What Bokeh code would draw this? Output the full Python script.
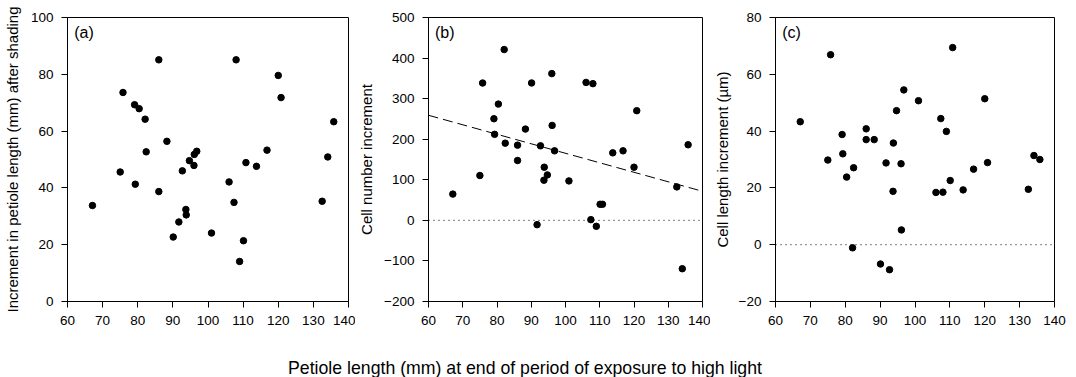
from bokeh.plotting import figure
from bokeh.layouts import row, column
from bokeh.models import Range1d, FixedTicker, Span, Label
from bokeh.embed import file_html
from bokeh.resources import INLINE

# Petiole length (mm) at end of high-light period (shared x for all panels)
petiole_len = [67.1, 75.0, 75.8, 79.1, 80.4, 79.3, 82.1, 82.4, 86.0, 86.0, 88.3, 90.1,
               91.7, 92.7, 93.7, 93.8, 94.7, 96.0, 96.1, 96.8, 101.0, 106.0, 107.4, 108.0,
               109.0, 110.1, 110.8, 113.8, 116.8, 120.0, 120.8, 132.5, 134.1, 135.8]
# (a) Increment in petiole length (mm) after shading
petiole_inc = [33.8, 45.6, 73.6, 69.3, 67.9, 41.3, 64.2, 52.7, 85.1, 38.7, 56.4, 22.7,
               28.0, 46.0, 32.4, 30.5, 49.6, 47.9, 51.8, 52.9, 24.1, 42.1, 34.9, 85.1,
               14.1, 21.4, 48.9, 47.6, 53.3, 79.6, 71.8, 35.3, 50.9, 63.3]
# (b) Cell number increment
cell_num_inc = [64.7, 110.5, 338.5, 250.5, 286.6, 212, 421, 190.3, 185.4, 147.5, 225, 338.6,
                -10.6, 183.7, 99, 131, 112, 361.7, 234, 171.4, 97.2, 340, 1.8, 337,
                -14.7, 39.6, 39.6, 166.4, 171.4, 131, 270.3, 82.5, -119.2, 186.3]
# (c) Cell length increment (um)
cell_len_inc = [43.3, 29.8, 66.9, 38.8, 23.8, 32.0, -1.1, 27.1, 40.8, 37.0, 37.0, -6.8,
                28.8, -8.8, 18.8, 35.8, 47.2, 28.5, 5.2, 54.5, 50.7, 18.4, 44.4, 18.5,
                39.9, 22.6, 69.4, 19.3, 26.6, 51.4, 28.9, 19.5, 31.4, 30.0]
# regression line in (b)
fit_x = [60, 139]
fit_y = [259, 74]

x_ticks = [60, 70, 80, 90, 100, 110, 120, 130, 140]
a_ticks = [0, 20, 40, 60, 80, 100]
b_ticks = [-200, -100, 0, 100, 200, 300, 400, 500]
c_ticks = [-20, 0, 20, 40, 60, 80]

FONT = "Liberation Sans"
H = 333


def panel(width, left, right, ylo, yhi, yticks, ylabel, letter, ys, standoff):
    p = figure(width=width, height=H, x_range=Range1d(60, 140), y_range=Range1d(ylo, yhi),
               output_backend="svg", toolbar_location=None,
               min_border_left=left, min_border_right=right,
               min_border_top=17, min_border_bottom=32)
    p.grid.visible = False
    p.background_fill_color = "white"
    p.border_fill_color = "white"
    p.outline_line_color = "black"
    p.outline_line_alpha = 1
    p.outline_line_width = 1
    for ax in (p.xaxis[0], p.yaxis[0]):
        ax.major_tick_out = 6
        ax.major_tick_in = 0
        ax.minor_tick_out = 0
        ax.minor_tick_in = 0
        ax.axis_line_color = "black"
        ax.major_tick_line_color = "black"
        ax.major_label_text_font = FONT
        ax.major_label_text_font_size = "13.5px"
        ax.major_label_text_color = "black"
        ax.major_label_standoff = 8
        ax.axis_label_text_font = FONT
        ax.axis_label_text_font_style = "normal"
        ax.axis_label_text_font_size = "15px"
        ax.axis_label_text_color = "black"
    p.xaxis.ticker = FixedTicker(ticks=x_ticks)
    p.yaxis.ticker = FixedTicker(ticks=yticks)
    p.yaxis.axis_label = ylabel
    p.yaxis.axis_label_standoff = standoff
    p.scatter(petiole_len, ys, size=6.5, color="black")
    p.add_layout(Label(x=61.9, y=yhi - (yhi - ylo) * 0.022, text=letter,
                       text_font=FONT, text_font_size="16px", text_color="black",
                       text_baseline="top", text_align="left"))
    return p


p1 = panel(355, 65, 7, 0, 100, a_ticks,
           "Increment in petiole length (mm) after shading", "(a)", petiole_inc, 7)
p2 = panel(355, 63, 8, -200, 500, b_ticks, "Cell number increment", "(b)", cell_num_inc, 6)
p3 = panel(366, 62, 22, -20, 80, c_ticks, "Cell length increment (\u00b5m)", "(c)", cell_len_inc, 5)

for p in (p2, p3):
    p.add_layout(Span(location=0, dimension="width", line_color="black",
                      line_width=1, line_dash="1 4"))
p2.line(fit_x, fit_y, line_color="black", line_width=1, line_dash="10 5")

p4 = figure(width=1076, height=377 - H, x_range=Range1d(0, 1076), y_range=Range1d(0, 377 - H),
            output_backend="svg", toolbar_location=None, min_border=0,
            x_axis_location=None, y_axis_location=None)
p4.grid.visible = False
p4.outline_line_color = None
p4.add_layout(Label(x=524.5, y=10, text="Petiole length (mm) at end of period of exposure to high light",
                    text_font=FONT, text_font_size="17.7px", text_color="black",
                    text_align="center", text_baseline="alphabetic"))

layout = column(row(p1, p2, p3), p4)
open("out.html", "w").write(file_html(layout, INLINE))
